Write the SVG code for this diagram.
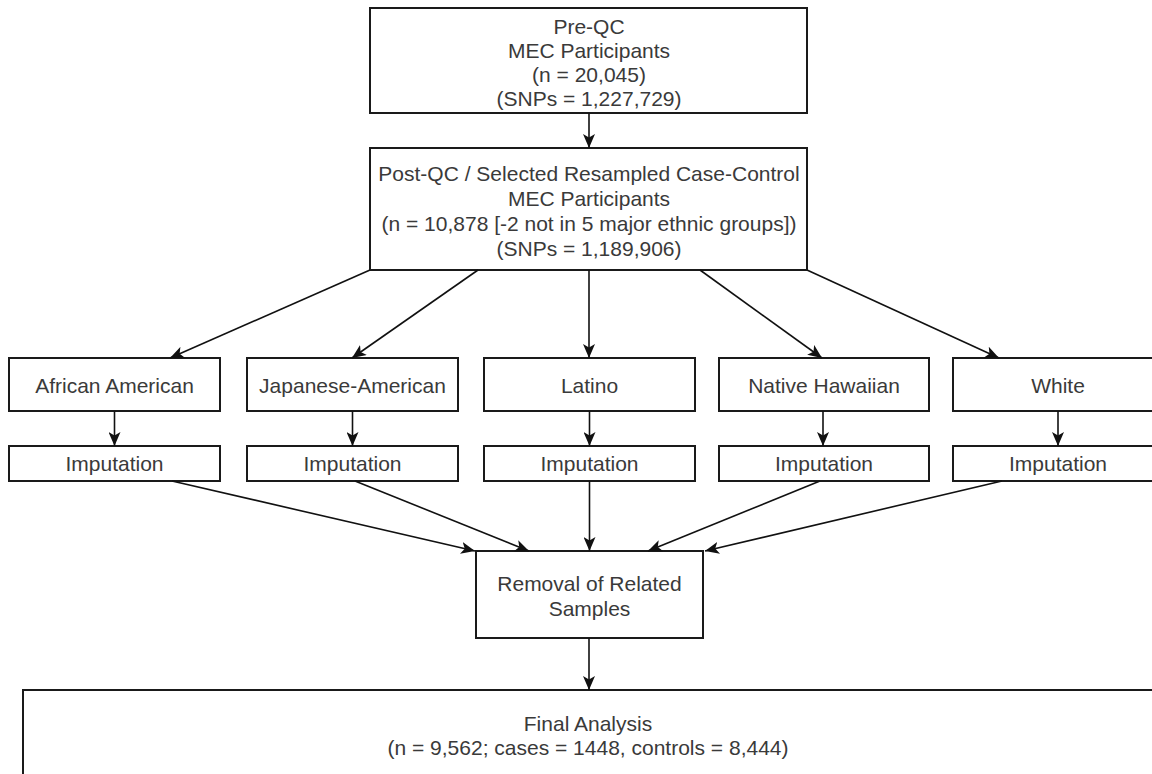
<svg xmlns="http://www.w3.org/2000/svg" width="1152" height="774" viewBox="0 0 1152 774">
  <style>
    .box { fill: #ffffff; stroke: #1a1a1a; stroke-width: 2; }
    .lbl { font-family: "Liberation Sans", Arial, sans-serif; font-size: 21px; fill: #3a3a3a; text-anchor: middle; }
    .edge { fill: none; stroke: #111111; stroke-width: 1.6; marker-end: url(#arr); }
  </style>
  <defs>
    <marker id="arr" viewBox="0 0 14 12" refX="14" refY="6" markerWidth="14" markerHeight="12" markerUnits="userSpaceOnUse" orient="auto">
      <path d="M0,0 L14,6 L0,12 L3.5,6 z" fill="#111111"/>
    </marker>
  </defs>
  <rect width="1152" height="774" fill="#ffffff"/>

  <g id="preqc">
    <rect class="box" x="370" y="8" width="437" height="105"/>
    <text class="lbl" x="589" y="34">Pre-QC</text>
    <text class="lbl" x="589" y="57.5">MEC Participants</text>
    <text class="lbl" x="589" y="82">(n = 20,045)</text>
    <text class="lbl" x="589" y="105.5">(SNPs = 1,227,729)</text>
  </g>

  <g id="postqc">
    <rect class="box" x="370" y="148" width="437" height="122"/>
    <text class="lbl" x="589" y="180.5">Post-QC / Selected Resampled Case-Control</text>
    <text class="lbl" x="589" y="205.5">MEC Participants</text>
    <text class="lbl" x="589" y="230.5">(n = 10,878 [-2 not in 5 major ethnic groups])</text>
    <text class="lbl" x="589" y="255.5">(SNPs = 1,189,906)</text>
  </g>

  <g id="african-american">
    <rect class="box" x="9" y="358" width="211" height="53"/>
    <text class="lbl" x="114.5" y="392.5">African American</text>
  </g>
  <g id="japanese-american">
    <rect class="box" x="247" y="358" width="211" height="53"/>
    <text class="lbl" x="352.5" y="392.5">Japanese-American</text>
  </g>
  <g id="latino">
    <rect class="box" x="484" y="358" width="211" height="53"/>
    <text class="lbl" x="589.5" y="392.5">Latino</text>
  </g>
  <g id="native-hawaiian">
    <rect class="box" x="719" y="358" width="210" height="53"/>
    <text class="lbl" x="824" y="392.5">Native Hawaiian</text>
  </g>
  <g id="white">
    <rect class="box" x="953" y="358" width="211" height="53"/>
    <text class="lbl" x="1058" y="392.5">White</text>
  </g>

  <g id="imputation-aa">
    <rect class="box" x="9" y="446" width="211" height="35"/>
    <text class="lbl" x="114.5" y="470.5">Imputation</text>
  </g>
  <g id="imputation-ja">
    <rect class="box" x="247" y="446" width="211" height="35"/>
    <text class="lbl" x="352.5" y="470.5">Imputation</text>
  </g>
  <g id="imputation-latino">
    <rect class="box" x="484" y="446" width="211" height="35"/>
    <text class="lbl" x="589.5" y="470.5">Imputation</text>
  </g>
  <g id="imputation-nh">
    <rect class="box" x="719" y="446" width="210" height="35"/>
    <text class="lbl" x="824" y="470.5">Imputation</text>
  </g>
  <g id="imputation-white">
    <rect class="box" x="953" y="446" width="211" height="35"/>
    <text class="lbl" x="1058" y="470.5">Imputation</text>
  </g>

  <g id="removal">
    <rect class="box" x="476" y="551" width="227" height="87"/>
    <text class="lbl" x="589.5" y="590.5">Removal of Related</text>
    <text class="lbl" x="589.5" y="615.5">Samples</text>
  </g>

  <g id="final">
    <rect class="box" x="23" y="690" width="1130" height="100"/>
    <text class="lbl" x="588" y="730.5">Final Analysis</text>
    <text class="lbl" x="588" y="754.5">(n = 9,562; cases = 1448, controls = 8,444)</text>
  </g>

  <g id="connectors">
    <line class="edge" x1="589" y1="113" x2="589" y2="148"/>
    <line class="edge" x1="370" y1="270" x2="170" y2="358"/>
    <line class="edge" x1="478" y1="270" x2="352" y2="358"/>
    <line class="edge" x1="589" y1="270" x2="589" y2="358"/>
    <line class="edge" x1="700" y1="270" x2="822" y2="358"/>
    <line class="edge" x1="807" y1="270" x2="999" y2="358"/>
    <line class="edge" x1="114.5" y1="411" x2="114.5" y2="446"/>
    <line class="edge" x1="352.5" y1="411" x2="352.5" y2="446"/>
    <line class="edge" x1="589.5" y1="411" x2="589.5" y2="446"/>
    <line class="edge" x1="823" y1="411" x2="823" y2="446"/>
    <line class="edge" x1="1058" y1="411" x2="1058" y2="446"/>
    <line class="edge" x1="172" y1="481" x2="475" y2="551"/>
    <line class="edge" x1="355" y1="481" x2="529" y2="551"/>
    <line class="edge" x1="589.5" y1="481" x2="589.5" y2="551"/>
    <line class="edge" x1="820" y1="481" x2="648" y2="551"/>
    <line class="edge" x1="1002" y1="481" x2="705" y2="551"/>
    <line class="edge" x1="589" y1="638" x2="589" y2="690"/>
  </g>
</svg>
